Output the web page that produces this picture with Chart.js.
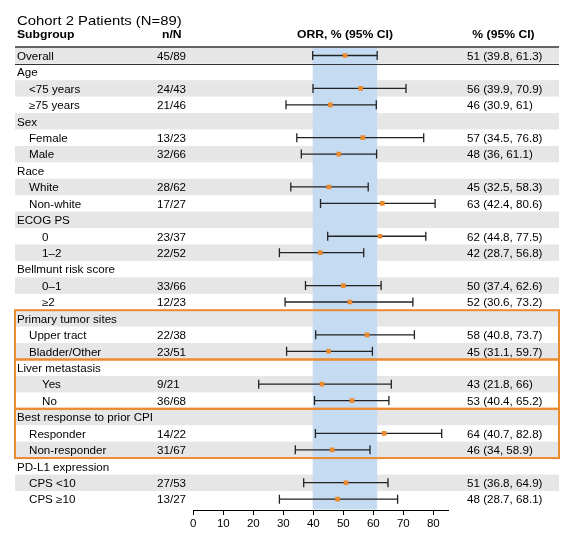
<!DOCTYPE html>
<html>
<head>
<meta charset="utf-8">
<script src="https://cdn.jsdelivr.net/npm/chart.js@4"></script>
<style>
  html, body { margin: 0; padding: 0; background: #fff; }
  #wrap { position: relative; width: 570px; height: 537px; }
</style>
</head>
<body>
<div id="wrap"><canvas id="forest"></canvas></div>
<script>
// Table rows, top to bottom
const subgroups = ['Overall', 'Age', '<75 years', '≥75 years', 'Sex', 'Female', 'Male',
  'Race', 'White', 'Non-white', 'ECOG PS', '0', '1–2', 'Bellmunt risk score', '0–1', '≥2',
  'Primary tumor sites', 'Upper tract', 'Bladder/Other', 'Liver metastasis', 'Yes', 'No',
  'Best response to prior CPI', 'Responder', 'Non-responder', 'PD-L1 expression', 'CPS <10', 'CPS ≥10'];
const indent = [0,0,1,1,0,1,1,0,1,1,0,2,2,0,2,2,0,1,1,0,2,2,0,1,1,0,1,1];
const counts = ['45/89','','24/43','21/46','','13/23','32/66','','28/62','17/27','','23/37','22/52','',
  '33/66','12/23','','22/38','23/51','','9/21','36/68','','14/22','31/67','','27/53','13/27'];

// ORR point estimates and 95% CI bounds (null = group heading row)
const orr = [50.6,null,55.8,45.7,null,56.5,48.5,null,45.2,63.0,null,62.2,42.3,null,50.0,52.2,
  null,57.9,45.1,null,42.9,52.9,null,63.6,46.3,null,50.9,48.1];
const ciLow = [39.8,null,39.9,30.9,null,34.5,36,null,32.5,42.4,null,44.8,28.7,null,37.4,30.6,
  null,40.8,31.1,null,21.8,40.4,null,40.7,34,null,36.8,28.7];
const ciHigh = [61.3,null,70.9,61,null,76.8,61.1,null,58.3,80.6,null,77.5,56.8,null,62.6,73.2,
  null,73.7,59.7,null,66,65.2,null,82.8,58.9,null,64.9,68.1];
const orrText = ['51 (39.8, 61.3)','','56 (39.9, 70.9)','46 (30.9, 61)','','57 (34.5, 76.8)','48 (36, 61.1)','',
  '45 (32.5, 58.3)','63 (42.4, 80.6)','','62 (44.8, 77.5)','42 (28.7, 56.8)','','50 (37.4, 62.6)','52 (30.6, 73.2)','',
  '58 (40.8, 73.7)','45 (31.1, 59.7)','','43 (21.8, 66)','53 (40.4, 65.2)','','64 (40.7, 82.8)','46 (34, 58.9)','',
  '51 (36.8, 64.9)','48 (28.7, 68.1)'];

const xTicks = [0, 10, 20, 30, 40, 50, 60, 70, 80];
const overallBand = [39.8, 61.3];
const boxedGroups = [[16, 18], [19, 21], [22, 24]];

const FONT = '"Liberation Sans", Arial, sans-serif';
const SX = 1.16; // text in the source is a bit wide
const ORANGE = '#ec8a2e';
const TABLE_L = 15, TABLE_R = 559;

function label(ctx, str, x, y, size, bold, align) {
  ctx.save();
  ctx.font = (bold ? 'bold ' : '') + size + 'px ' + FONT;
  ctx.fillStyle = '#000';
  ctx.textAlign = align || 'left';
  ctx.textBaseline = 'alphabetic';
  ctx.translate(x, y);
  ctx.scale(SX, 1);
  ctx.fillText(str, 0, 0);
  ctx.restore();
}

const forestTable = {
  id: 'forestTable',
  beforeDraw(chart) {
    const ctx = chart.ctx, xs = chart.scales.x, ys = chart.scales.y, area = chart.chartArea;
    const top = i => ys.getPixelForValue(i - 0.5);
    ctx.save();
    // zebra stripes
    ctx.fillStyle = '#e6e6e6';
    subgroups.forEach((s, i) => {
      if (i % 2 === 0) ctx.fillRect(TABLE_L, top(i), TABLE_R - TABLE_L, top(i + 1) - top(i));
    });
    // overall CI band
    const b0 = xs.getPixelForValue(overallBand[0]), b1 = xs.getPixelForValue(overallBand[1]);
    ctx.fillStyle = '#c5dbf1';
    ctx.fillRect(b0, area.top, b1 - b0, area.bottom - area.top - 0.5);
    // whiskers
    ctx.strokeStyle = '#222';
    ctx.lineWidth = 1.3;
    orr.forEach((v, i) => {
      if (v === null) return;
      const y = ys.getPixelForValue(i);
      const l = xs.getPixelForValue(ciLow[i]), r = xs.getPixelForValue(ciHigh[i]);
      ctx.beginPath();
      ctx.moveTo(l, y); ctx.lineTo(r, y);
      ctx.moveTo(l, y - 4.5); ctx.lineTo(l, y + 4.5);
      ctx.moveTo(r, y - 4.5); ctx.lineTo(r, y + 4.5);
      ctx.stroke();
    });
    // header rule and line under Overall
    ctx.strokeStyle = '#333';
    ctx.lineWidth = 1.5;
    ctx.beginPath(); ctx.moveTo(TABLE_L, 47); ctx.lineTo(TABLE_R, 47); ctx.stroke();
    ctx.lineWidth = 1;
    const yo = Math.round(top(1)) + 0.5;
    ctx.beginPath(); ctx.moveTo(TABLE_L, yo); ctx.lineTo(TABLE_R, yo); ctx.stroke();
    // orange group boxes
    ctx.strokeStyle = ORANGE;
    ctx.lineWidth = 2;
    boxedGroups.forEach(([a, b]) => {
      ctx.strokeRect(TABLE_L, top(a), TABLE_R - TABLE_L, top(b + 1) - top(a));
    });
    ctx.restore();
  },
  afterDraw(chart) {
    const ctx = chart.ctx, ys = chart.scales.y;
    label(ctx, 'Cohort 2 Patients (N=89)', 17, 25, 12.8, false);
    label(ctx, 'Subgroup', 17, 37.5, 10.5, true);
    label(ctx, 'n/N', 162, 37.5, 10.5, true);
    label(ctx, 'ORR, % (95% CI)', 345, 37.5, 10.5, true, 'center');
    label(ctx, '% (95% CI)', 503.5, 37.5, 10.5, true, 'center');
    const indentX = [17, 29, 42];
    subgroups.forEach((s, i) => {
      const y = ys.getPixelForValue(i) + 4.3;
      label(ctx, s, indentX[indent[i]], y, 10, false);
      if (counts[i]) label(ctx, counts[i], 157, y, 10, false);
      if (orrText[i]) label(ctx, orrText[i], 467, y, 10, false);
    });
  }
};

const points = [];
orr.forEach((v, i) => { if (v !== null) points.push({ x: v, y: i }); });

new Chart(document.getElementById('forest'), {
  type: 'scatter',
  data: {
    datasets: [{
      data: points,
      pointStyle: 'rect',
      pointRadius: 3.3,
      pointHoverRadius: 3.3,
      backgroundColor: ORANGE,
      borderWidth: 0
    }]
  },
  options: {
    responsive: true,
    maintainAspectRatio: false,
    animation: false,
    layout: { padding: { left: 193.3, right: 121.7, top: 47.3, bottom: 0 } },
    plugins: { legend: { display: false }, tooltip: { enabled: false } },
    scales: {
      y: { type: 'linear', reverse: true, min: -0.5, max: 27.66, display: false },
      x: {
        type: 'linear',
        position: 'bottom',
        min: 0,
        max: 85,
        afterBuildTicks: s => { s.ticks = xTicks.map(v => ({ value: v })); },
        afterFit: s => { s.height = 27; },
        ticks: { color: '#000', font: { family: FONT, size: 11.5 }, padding: 2, maxRotation: 0 },
        grid: { drawOnChartArea: false, color: '#000', tickLength: 5, lineWidth: 1 },
        border: { color: '#000', width: 1 }
      }
    }
  },
  plugins: [forestTable]
});
</script>
</body>
</html>
